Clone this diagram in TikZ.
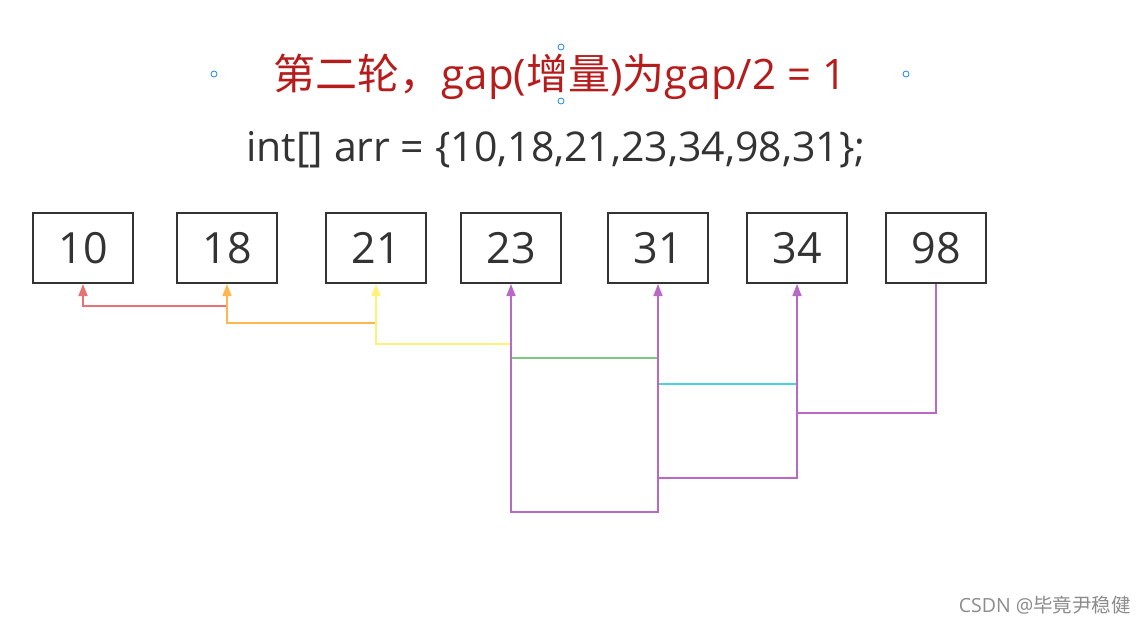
\documentclass[tikz,border=0pt]{standalone}
\usepackage{fontspec}
\setmainfont{Open Sans}
\newfontfamily\cjk{Noto Sans CJK SC}
\usetikzlibrary{arrows.meta}
\definecolor{cred}{HTML}{E57373}
\definecolor{corange}{HTML}{FFB74D}
\definecolor{cyellow}{HTML}{FFF176}
\definecolor{cgreen}{HTML}{81C784}
\definecolor{ccyan}{HTML}{4DD0E1}
\definecolor{cpurple}{HTML}{BA68C8}
\definecolor{ctitle}{HTML}{B71C1C}
\definecolor{ctext}{HTML}{333333}
\definecolor{chandle}{HTML}{1E88E5}
\begin{document}
\begin{tikzpicture}[x=1pt,y=-1pt,
  numbox/.style={draw=ctext,line width=2pt,minimum width=100pt,minimum height=70pt,inner sep=0pt,text=ctext,font=\fontsize{43}{43}\selectfont},
  conn/.style={line width=1.6pt},
  arr/.style={conn,-{Triangle[length=12pt,width=9pt]}},
  handle/.style={circle,draw=chandle,fill=white,line width=0.8pt,minimum size=6pt,inner sep=0pt}]
\useasboundingbox (0,0) rectangle (1146,625);
\fill[white] (0,0) rectangle (1146,625);
% title
\node[text=ctitle,font=\fontsize{42}{42}\selectfont,anchor=center] (title) at (560,77) {{\cjk 第二轮，}gap({\cjk 增量}){\cjk 为}gap/2 = 1};
\node[handle] (h1) at (214,74) {};
\node[handle] (h2) at (906,74) {};
\node[handle] (h3) at (561,47) {};
\node[handle] (h4) at (561,101) {};
\node[text=ctext,font=\fontsize{41}{41}\selectfont,anchor=center] (code) at (556,150) {int[] arr = \{10,18,21,23,34,98,31\};};
% boxes
\node[numbox] (n10) at (83,248) {10};
\node[numbox] (n18) at (227,248) {18};
\node[numbox] (n21) at (376,248) {21};
\node[numbox] (n23) at (511,248) {23};
\node[numbox] (n31) at (658,248) {31};
\node[numbox] (n34) at (797,248) {34};
\node[numbox] (n98) at (936,248) {98};
% junction coordinates
\coordinate (r0) at (227,306);
\coordinate (o0) at (376,323);
\coordinate (y0) at (511,344);
\coordinate (g0) at (511,358);
\coordinate (g1) at (658,358);
\coordinate (c0) at (658,384);
\coordinate (c1) at (797,384);
\coordinate (p0) at (797,413);
\coordinate (p1) at (658,478);
% connectors
\draw[arr,cred] (r0) -| (n10.south);
\draw[arr,corange] (o0) -| (n18.south);
\draw[arr,cyellow] (y0) -| (n21.south);
\draw[conn,cgreen] (g0) -- (g1);
\draw[conn,ccyan] (c0) -- (c1);
\draw[arr,cpurple] (n98.south) |- (p0) -- (n34.south);
\draw[arr,cpurple] (p0) |- (p1) -- (n31.south);
\draw[arr,cpurple] (p1) |- (511,512) -- (n23.south);
% watermark
\node[anchor=base east,text=black!45,font=\fontsize{19.5}{19.5}\selectfont,inner sep=0pt] (wm) at (1131,612) {CSDN @{\cjk 毕竟尹稳健}};
\end{tikzpicture}
\end{document}
